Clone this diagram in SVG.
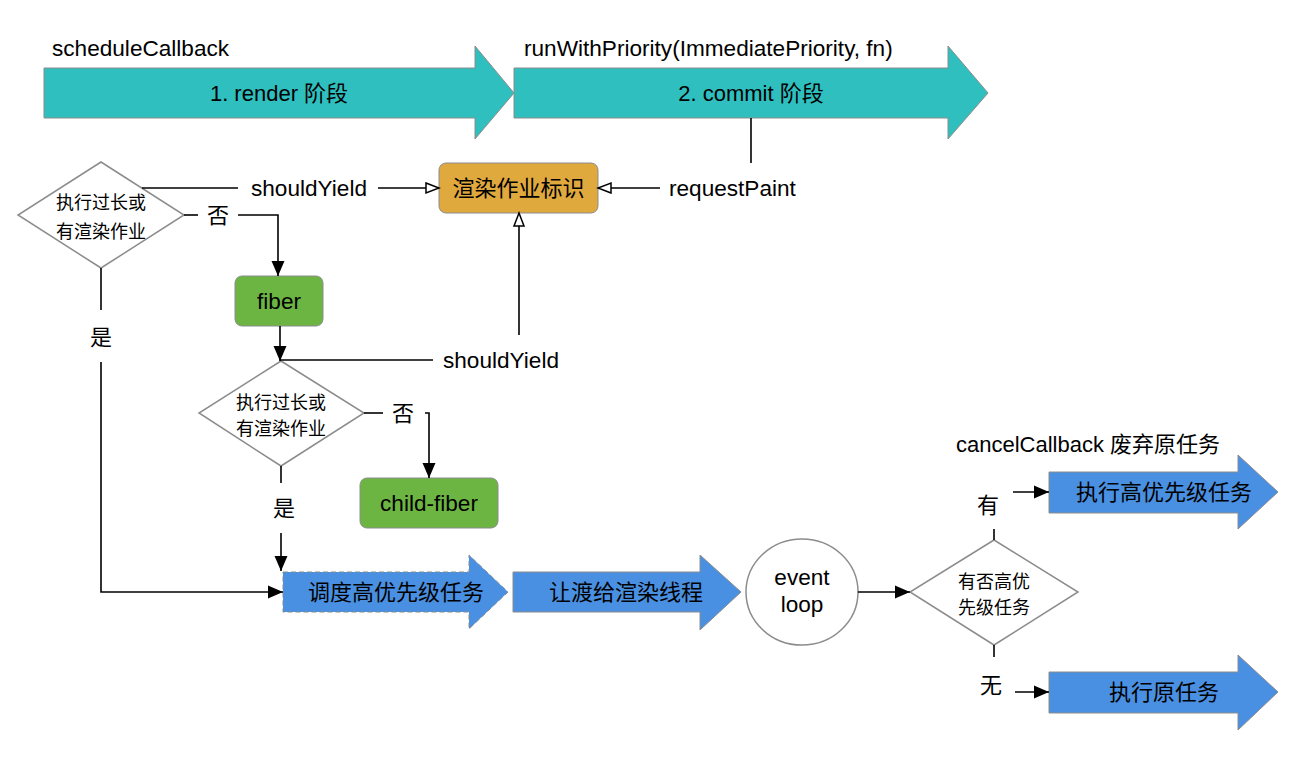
<svg xmlns="http://www.w3.org/2000/svg" width="1300" height="759" viewBox="0 0 1300 759">
<defs>
<style>
text{font-family:"Liberation Sans","Noto Sans CJK SC",sans-serif;fill:#000}
.t22{font-size:22px}
.l22{font-size:22.6px}
.t18{font-size:18px}
.mid{text-anchor:middle}
.teal{fill:#2FBFBF;stroke:#8C8C8C;stroke-width:1}
.blue{fill:#4A90E2;stroke:#8C8C8C;stroke-width:1}
.dash{stroke-dasharray:5 3}
.dia{fill:#fff;stroke:#8C8C8C;stroke-width:1.5}
.ln{fill:none;stroke:#000;stroke-width:1.6}
</style>
<marker id="af" markerUnits="userSpaceOnUse" markerWidth="16" markerHeight="16" viewBox="0 0 16 16" refX="15" refY="8" orient="auto">
<path d="M0,1.5 L15,8 L0,14.5 Z" fill="#000"/>
</marker>
<marker id="ah" markerUnits="userSpaceOnUse" markerWidth="16" markerHeight="16" viewBox="0 0 16 16" refX="14" refY="8" orient="auto">
<path d="M1,3 L14,8 L1,13 Z" fill="#fff" stroke="#000" stroke-width="1.5"/>
</marker>
</defs>
<rect width="1300" height="759" fill="#fff"/>

<g id="render-phase">
<text class="l22" x="52" y="56">scheduleCallback</text>
<polygon class="teal" points="44,68 475,68 475,46 514,93 475,139 475,118 44,118"/>
<text class="t22 mid" x="279" y="101">1. render 阶段</text>
</g>
<g id="commit-phase">
<text class="l22" x="524" y="56">runWithPriority(ImmediatePriority, fn)</text>
<polygon class="teal" points="514,68 948,68 948,46 988,93 948,139 948,118 514,118"/>
<text class="t22 mid" x="751" y="101">2. commit 阶段</text>
</g>
<g id="render-flag">
<rect x="439" y="163" width="159" height="50" rx="7" fill="#E0A93E" stroke="#8C8C8C" stroke-width="1"/>
<text class="t22 mid" x="518.5" y="196">渲染作业标识</text>
</g>
<g id="decision1">
<polygon class="dia" points="101,162 184,215 101,268 18,215"/>
<text class="t18 mid" x="101" y="209">执行过长或</text>
<text class="t18 mid" x="101" y="238">有渲染作业</text>
</g>
<g id="fiber">
<rect x="235" y="276" width="88" height="50" rx="7" fill="#6DB543" stroke="#8C8C8C" stroke-width="1"/>
<text class="l22 mid" x="279" y="309">fiber</text>
</g>
<g id="decision2">
<polygon class="dia" points="281,361 364,413 281,466 199,413"/>
<text class="t18 mid" x="281" y="409">执行过长或</text>
<text class="t18 mid" x="281" y="435">有渲染作业</text>
</g>
<g id="child-fiber">
<rect x="360" y="478" width="138" height="50" rx="7" fill="#6DB543" stroke="#8C8C8C" stroke-width="1"/>
<text class="l22 mid" x="429" y="511">child-fiber</text>
</g>
<g id="schedule-high">
<polygon class="blue dash" points="283,572 469,572 469,555 508,592 469,629 469,612 283,612"/>
<text class="t22 mid" x="396" y="600">调度高优先级任务</text>
</g>
<g id="yield-render">
<polygon class="blue" points="513,572 700,572 700,555 741,592 700,630 700,612 513,612"/>
<text class="t22 mid" x="626" y="600">让渡给渲染线程</text>
</g>
<g id="event-loop">
<ellipse cx="802" cy="592" rx="56" ry="53" fill="#fff" stroke="#8C8C8C" stroke-width="1.5"/>
<text class="l22 mid" x="802" y="585">event</text>
<text class="l22 mid" x="802" y="612">loop</text>
</g>
<g id="decision3">
<polygon class="dia" points="994,540 1078,592 994,645 910,592"/>
<text class="t18 mid" x="994" y="588">有否高优</text>
<text class="t18 mid" x="994" y="614">先级任务</text>
</g>
<g id="run-high">
<text class="t22" x="956" y="452">cancelCallback 废弃原任务</text>
<polygon class="blue" points="1049,472 1238,472 1238,455 1278,492 1238,529 1238,513 1049,513"/>
<text class="t22 mid" x="1164" y="500">执行高优先级任务</text>
</g>
<g id="run-original">
<polygon class="blue" points="1049,672 1238,672 1238,655 1278,692 1238,730 1238,713 1049,713"/>
<text class="t22 mid" x="1164" y="700">执行原任务</text>
</g>

<g id="connectors">
<line class="ln" x1="142" y1="188" x2="238" y2="188"/>
<text class="l22" x="251" y="196">shouldYield</text>
<line class="ln" x1="378" y1="188" x2="439" y2="188" marker-end="url(#ah)"/>

<line class="ln" x1="751" y1="118" x2="751" y2="163"/>
<text class="l22" x="669" y="196">requestPaint</text>
<line class="ln" x1="660" y1="188" x2="598" y2="188" marker-end="url(#ah)"/>

<line class="ln" x1="184" y1="215" x2="198" y2="215"/>
<text class="t22 mid" x="218" y="223">否</text>
<path class="ln" d="M238,215 H278 V276" marker-end="url(#af)"/>

<line class="ln" x1="280" y1="326" x2="280" y2="361" marker-end="url(#af)"/>
<line class="ln" x1="280" y1="360" x2="433" y2="360"/>
<text class="l22" x="443" y="368">shouldYield</text>
<line class="ln" x1="519" y1="335" x2="519" y2="213" marker-end="url(#ah)"/>

<line class="ln" x1="364" y1="413" x2="383" y2="413"/>
<text class="t22 mid" x="403" y="421">否</text>
<path class="ln" d="M425,413 H429 V478" marker-end="url(#af)"/>

<line class="ln" x1="281" y1="466" x2="281" y2="483"/>
<text class="t22 mid" x="284" y="516">是</text>
<line class="ln" x1="281" y1="533" x2="281" y2="571" marker-end="url(#af)"/>

<line class="ln" x1="101" y1="268" x2="101" y2="310"/>
<text class="t22 mid" x="101" y="345">是</text>
<path class="ln" d="M101,362 V592 H283" marker-end="url(#af)"/>

<line class="ln" x1="858" y1="592" x2="910" y2="592" marker-end="url(#af)"/>

<line class="ln" x1="994" y1="540" x2="994" y2="529"/>
<text class="t22 mid" x="988" y="513">有</text>
<line class="ln" x1="1013" y1="492" x2="1049" y2="492" marker-end="url(#af)"/>

<line class="ln" x1="994" y1="645" x2="994" y2="657"/>
<text class="t22 mid" x="991" y="693">无</text>
<line class="ln" x1="1015" y1="692" x2="1049" y2="692" marker-end="url(#af)"/>
</g>
</svg>
